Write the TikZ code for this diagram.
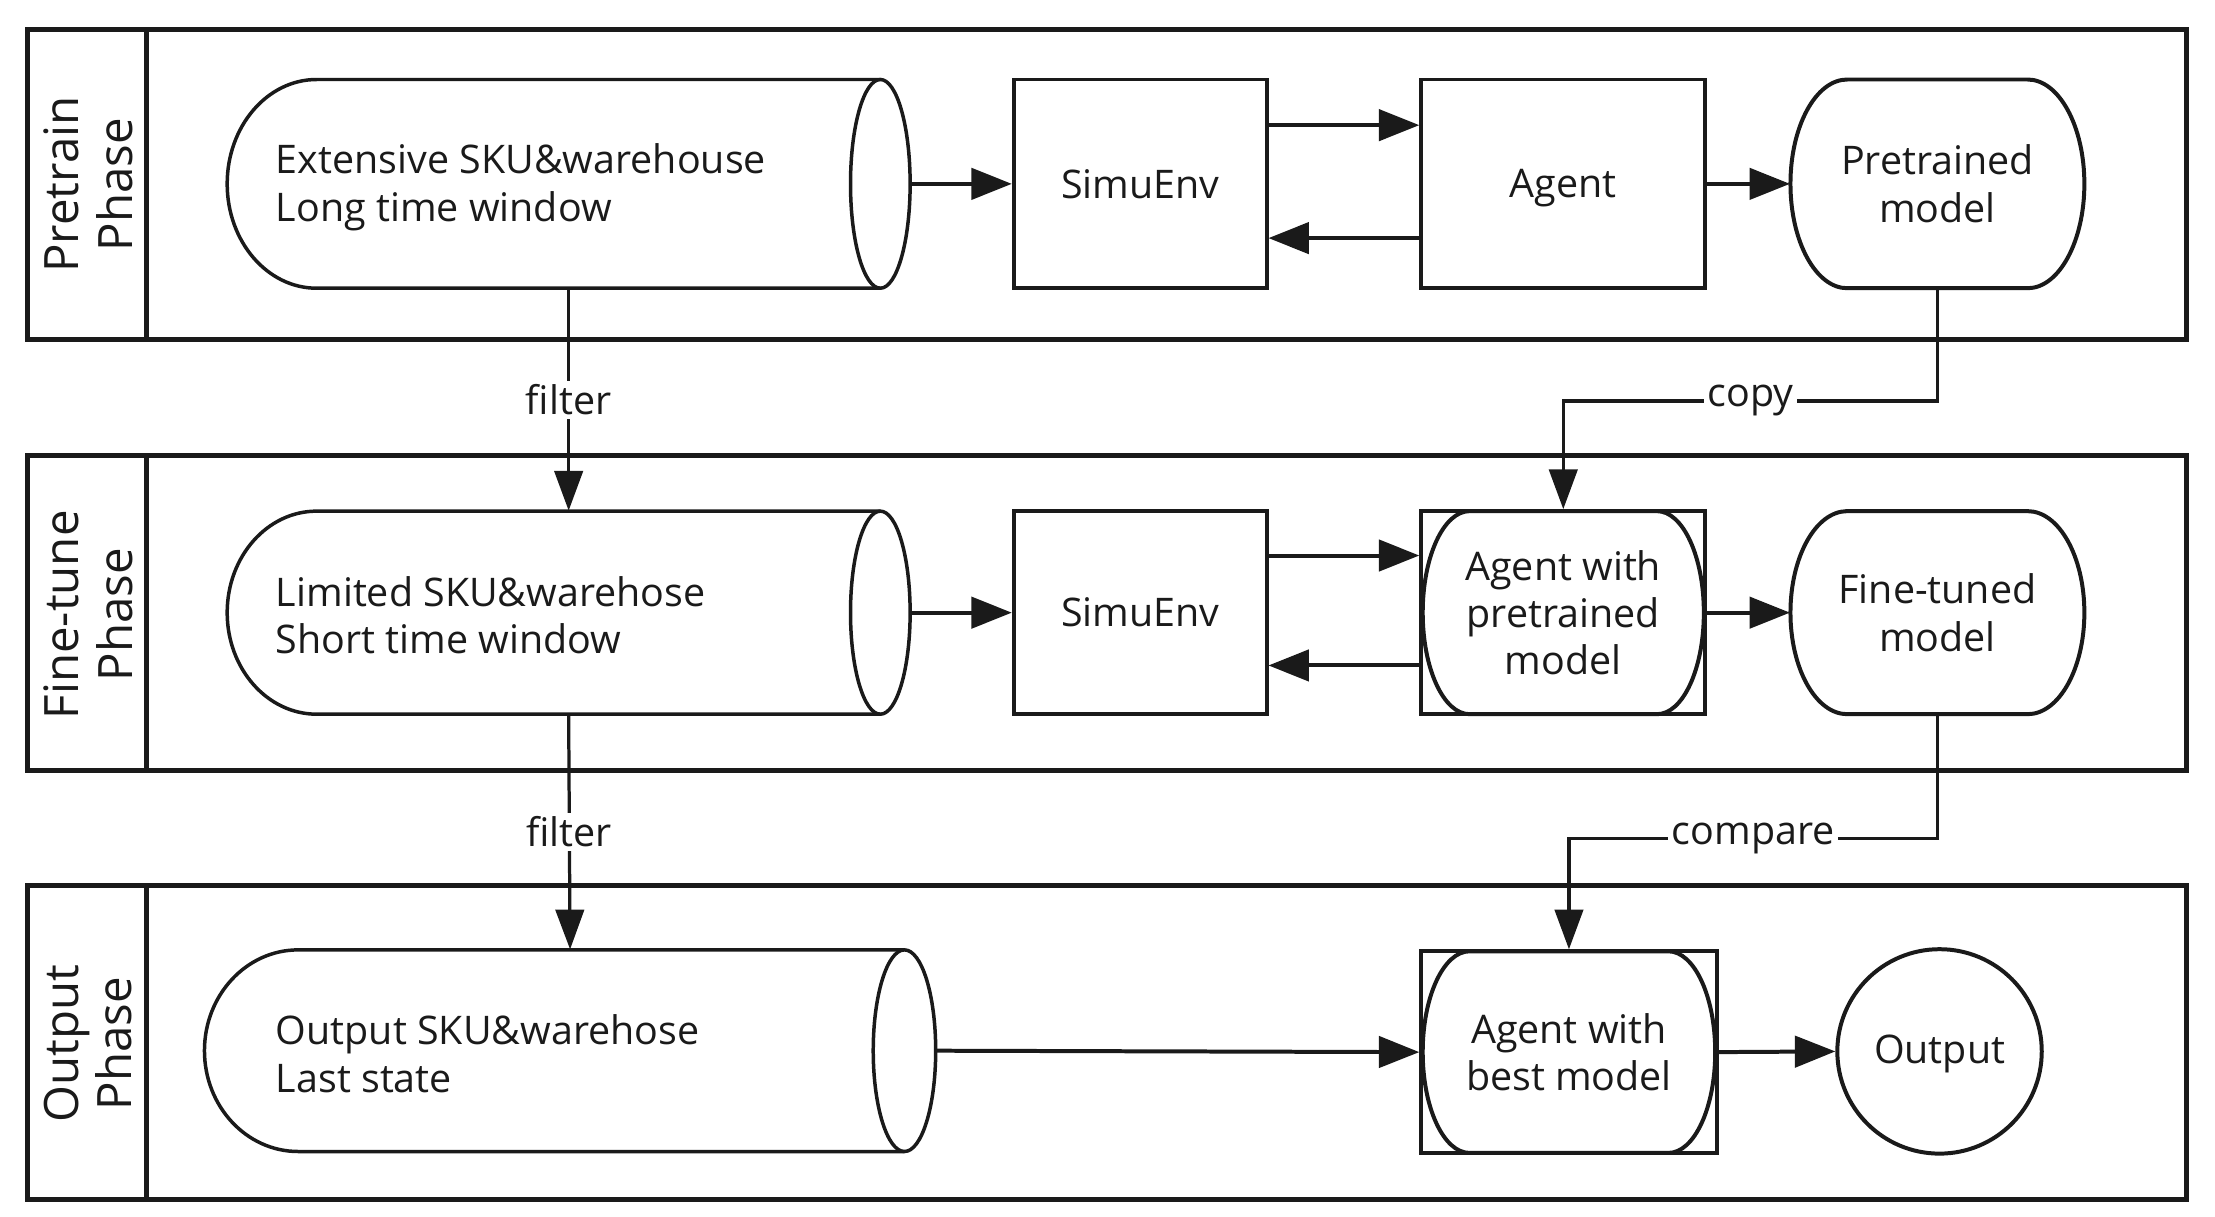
\documentclass[tikz,border=0pt]{standalone}
\usepackage{fontspec}
\setmainfont{Open Sans}
\usetikzlibrary{arrows.meta,fit,calc}
\definecolor{ink}{RGB}{26,26,26}
\newcommand\mystad[5]{\draw[shp] ({#1+#5},#2) -- ({#3-#5},#2) arc[start angle=-90,end angle=90,x radius=#5,y radius={(#4-#2)/2}] -- ({#1+#5},#4) arc[start angle=90,end angle=270,x radius=#5,y radius={(#4-#2)/2}] -- cycle;}
\newcommand\mycyl[6]{\draw[cylln] ({#3-#6},#2) -- ({#1+#5},#2) arc[start angle=-90,end angle=-270,x radius=#5,y radius={(#4-#2)/2}] -- ({#3-#6},#4);
\draw[cylln] ({#3-#6},{(#2+#4)/2}) ellipse[x radius=#6,y radius={(#4-#2)/2}];}
\begin{document}
\begin{tikzpicture}[x=0.02cm,y=-0.02cm,
  every node/.style={font=\fontsize{15.8pt}{19pt}\selectfont, text=ink},
  shp/.style={draw=ink,line width=1.6pt},
  cylln/.style={draw=ink,line width=1.4pt},
  lanebox/.style={draw=ink,line width=2pt},
  arr/.style={draw=ink,line width=1.6pt,-{Triangle[length=0.57cm,width=0.44cm]}},
  conn/.style={draw=ink,line width=1.3pt,-{Triangle[length=0.56cm,width=0.40cm]}},
  anchorbox/.style={inner sep=0pt},
  boxed/.style={anchorbox, draw=ink, line width=1.6pt},
  txt/.style={align=center, inner sep=0pt},
  lbl/.style={fill=white,inner sep=1.5pt},
  lanelbl/.style={rotate=90,align=center,font=\fontsize{19pt}{21.6pt}\selectfont}]
\useasboundingbox (0,0) rectangle (1560,857);
% lanes
\draw[lanebox] (19.5,20.5) rectangle (1540,239); \draw[lanebox] (103,20.5) -- (103,239);
\node[lanelbl] (l1) at (62,130) {Pretrain\\Phase};
\draw[lanebox] (19.5,321) rectangle (1540,543); \draw[lanebox] (103,321) -- (103,543);
\node[lanelbl] (l2) at (62,433) {Fine-tune\\Phase};
\draw[lanebox] (19.5,624) rectangle (1540,845); \draw[lanebox] (103,624) -- (103,845);
\node[lanelbl] (l3) at (62,735) {Output\\Phase};
% row 1
\mycyl{160}{56}{641}{203}{63}{21}
\node[anchorbox, fit={(160,56) (641,203)}] (cyl1) {};
\node[anchor=west, align=left, inner sep=0pt] (cyl1t) at (194,132) {Extensive SKU\&warehouse\\Long time window};
\node[boxed, fit={(714,56) (892,203)}] (sim1) {};
\node[txt] (sim1t) at (sim1.center) {SimuEnv};
\node[boxed, fit={(1001,56) (1201,203)}] (ag1) {};
\node[txt, text depth=0pt] (ag1t) at (ag1.center) {Agent};
\mystad{1261}{56}{1468}{203}{40}
\node[anchorbox, fit={(1261,56) (1468,203)}] (pre1) {};
\node[txt] (pre1t) at (pre1.center) {Pretrained\\model};
% row 2
\mycyl{160}{360}{641}{503}{63}{21}
\node[anchorbox, fit={(160,360) (641,503)}] (cyl2) {};
\node[anchor=west, align=left, inner sep=0pt] (cyl2t) at (194,433.5) {Limited SKU\&warehose\\Short time window};
\node[boxed, fit={(714,360) (892,503)}] (sim2) {};
\node[txt] (sim2t) at (sim2.center) {SimuEnv};
\mystad{1002}{360}{1200}{503}{33}
\node[boxed, fit={(1001,360) (1201,503)}] (ag2) {};
\node[txt] (ag2t) at (ag2.center) {Agent with\\pretrained\\model};
\mystad{1261}{360}{1468}{503}{40}
\node[anchorbox, fit={(1261,360) (1468,503)}] (ft) {};
\node[txt] (ftt) at (ft.center) {Fine-tuned\\model};
% row 3
\mycyl{144}{669}{659}{811}{66}{22}
\node[anchorbox, fit={(144,669) (659,811)}] (cyl3) {};
\node[anchor=west, align=left, inner sep=0pt] (cyl3t) at (194,742) {Output SKU\&warehose\\Last state};
\mystad{1002}{670}{1208}{812}{33}
\node[boxed, fit={(1001,670) (1209,812)}] (ag3) {};
\node[txt] (ag3t) at (ag3.center) {Agent with\\best model};
\node[circle, draw=ink, line width=1.6pt, minimum size=2.88cm, inner sep=0pt] (out) at (1366,740.5) {};
\node[txt] (outt) at ([yshift=-1pt]out.center) {Output};
% arrows row 1
\draw[arr] (cyl1.east) -- (sim1.west);
\draw[arr] ($(sim1.north east)!0.224!(sim1.south east)$) -- ($(ag1.north west)!0.224!(ag1.south west)$);
\draw[arr] ($(ag1.north west)!0.755!(ag1.south west)$) -- ($(sim1.north east)!0.755!(sim1.south east)$);
\draw[arr] (ag1.east) -- (pre1.west);
% arrows row 2
\draw[arr] (cyl2.east) -- (sim2.west);
\draw[arr] ($(sim2.north east)!0.224!(sim2.south east)$) -- ($(ag2.north west)!0.224!(ag2.south west)$);
\draw[arr] ($(ag2.north west)!0.755!(ag2.south west)$) -- ($(sim2.north east)!0.755!(sim2.south east)$);
\draw[arr] (ag2.east) -- (ft.west);
% arrows row 3
\draw[arr] (cyl3.east) -- (ag3.west);
\draw[arr] (ag3.east) -- (out.west);
% connectors
\draw[conn] (cyl1.south) -- node[lbl]{filter} (cyl2.north);
\draw[conn] (cyl2.south) -- node[lbl]{filter} (cyl3.north);
\draw[conn] (pre1.south) -- ($(pre1.south)+(0,79)$) -| node[lbl,pos=0.25]{copy} (ag2.north);
\draw[conn] (ft.south) -- ($(ft.south)+(0,87)$) -| node[lbl,pos=0.25]{compare} (ag3.north);
\end{tikzpicture}
\end{document}
